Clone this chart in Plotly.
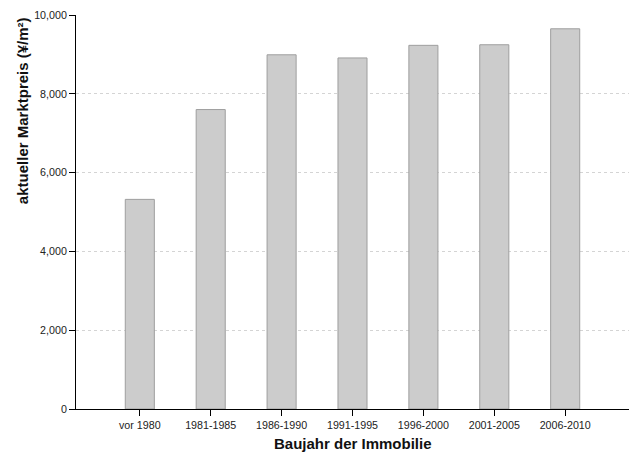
import plotly.graph_objects as go

categories = ["vor 1980", "1981-1985", "1986-1990", "1991-1995", "1996-2000", "2001-2005", "2006-2010"]
prices = [5320, 7600, 8990, 8910, 9230, 9245, 9650]
y_ticks = [0, 2000, 4000, 6000, 8000, 10000]
y_tick_labels = ["0", "2,000", "4,000", "6,000", "8,000", "10,000"]

fig = go.Figure(go.Bar(
    x=list(range(len(categories))),
    y=prices,
    width=0.41,
    marker=dict(color="#cccccc", line=dict(color="#9e9e9e", width=1)),
    hoverinfo="skip",
))

fig.update_layout(
    width=637, height=455,
    margin=dict(l=76, r=8, t=15, b=46, autoexpand=False),
    plot_bgcolor="white", paper_bgcolor="white",
    font=dict(family="Liberation Sans, Arial, sans-serif", size=10.7, color="#222222"),
    showlegend=False,
    xaxis=dict(
        range=[-0.9, 6.9],
        tickmode="array",
        tickvals=list(range(len(categories))),
        ticktext=categories,
        ticks="outside", ticklen=6, tickcolor="black", tickwidth=1,
        showline=True, linecolor="black", linewidth=1,
        showgrid=False, zeroline=False, automargin=False,
        tickfont=dict(size=10.7, color="#222222"),
    ),
    yaxis=dict(
        range=[0, 10000],
        tickmode="array",
        tickvals=y_ticks,
        ticktext=y_tick_labels,
        ticks="outside", ticklen=6, tickcolor="black", tickwidth=1,
        showline=True, linecolor="black", linewidth=1,
        showgrid=True, gridcolor="#d4d4d4", griddash="3px,3px", gridwidth=1,
        zeroline=False, automargin=False,
        tickfont=dict(size=10.7, color="#222222"),
    ),
    annotations=[
        dict(text="<b>Baujahr der Immobilie</b>", xref="paper", yref="paper",
             x=0.5, y=0, xanchor="center", yanchor="middle", yshift=-34,
             showarrow=False, font=dict(size=15, color="#111111")),
        dict(text="<b>aktueller Marktpreis (¥/m²)</b>", xref="paper", yref="paper",
             x=0, y=0.756, xanchor="center", yanchor="middle", xshift=-54,
             textangle=-90, showarrow=False, font=dict(size=15, color="#111111")),
    ],
)

fig.write_html("out.html", config={"displayModeBar": False},
               post_script="document.body.style.margin='0';document.body.style.padding='0';")
